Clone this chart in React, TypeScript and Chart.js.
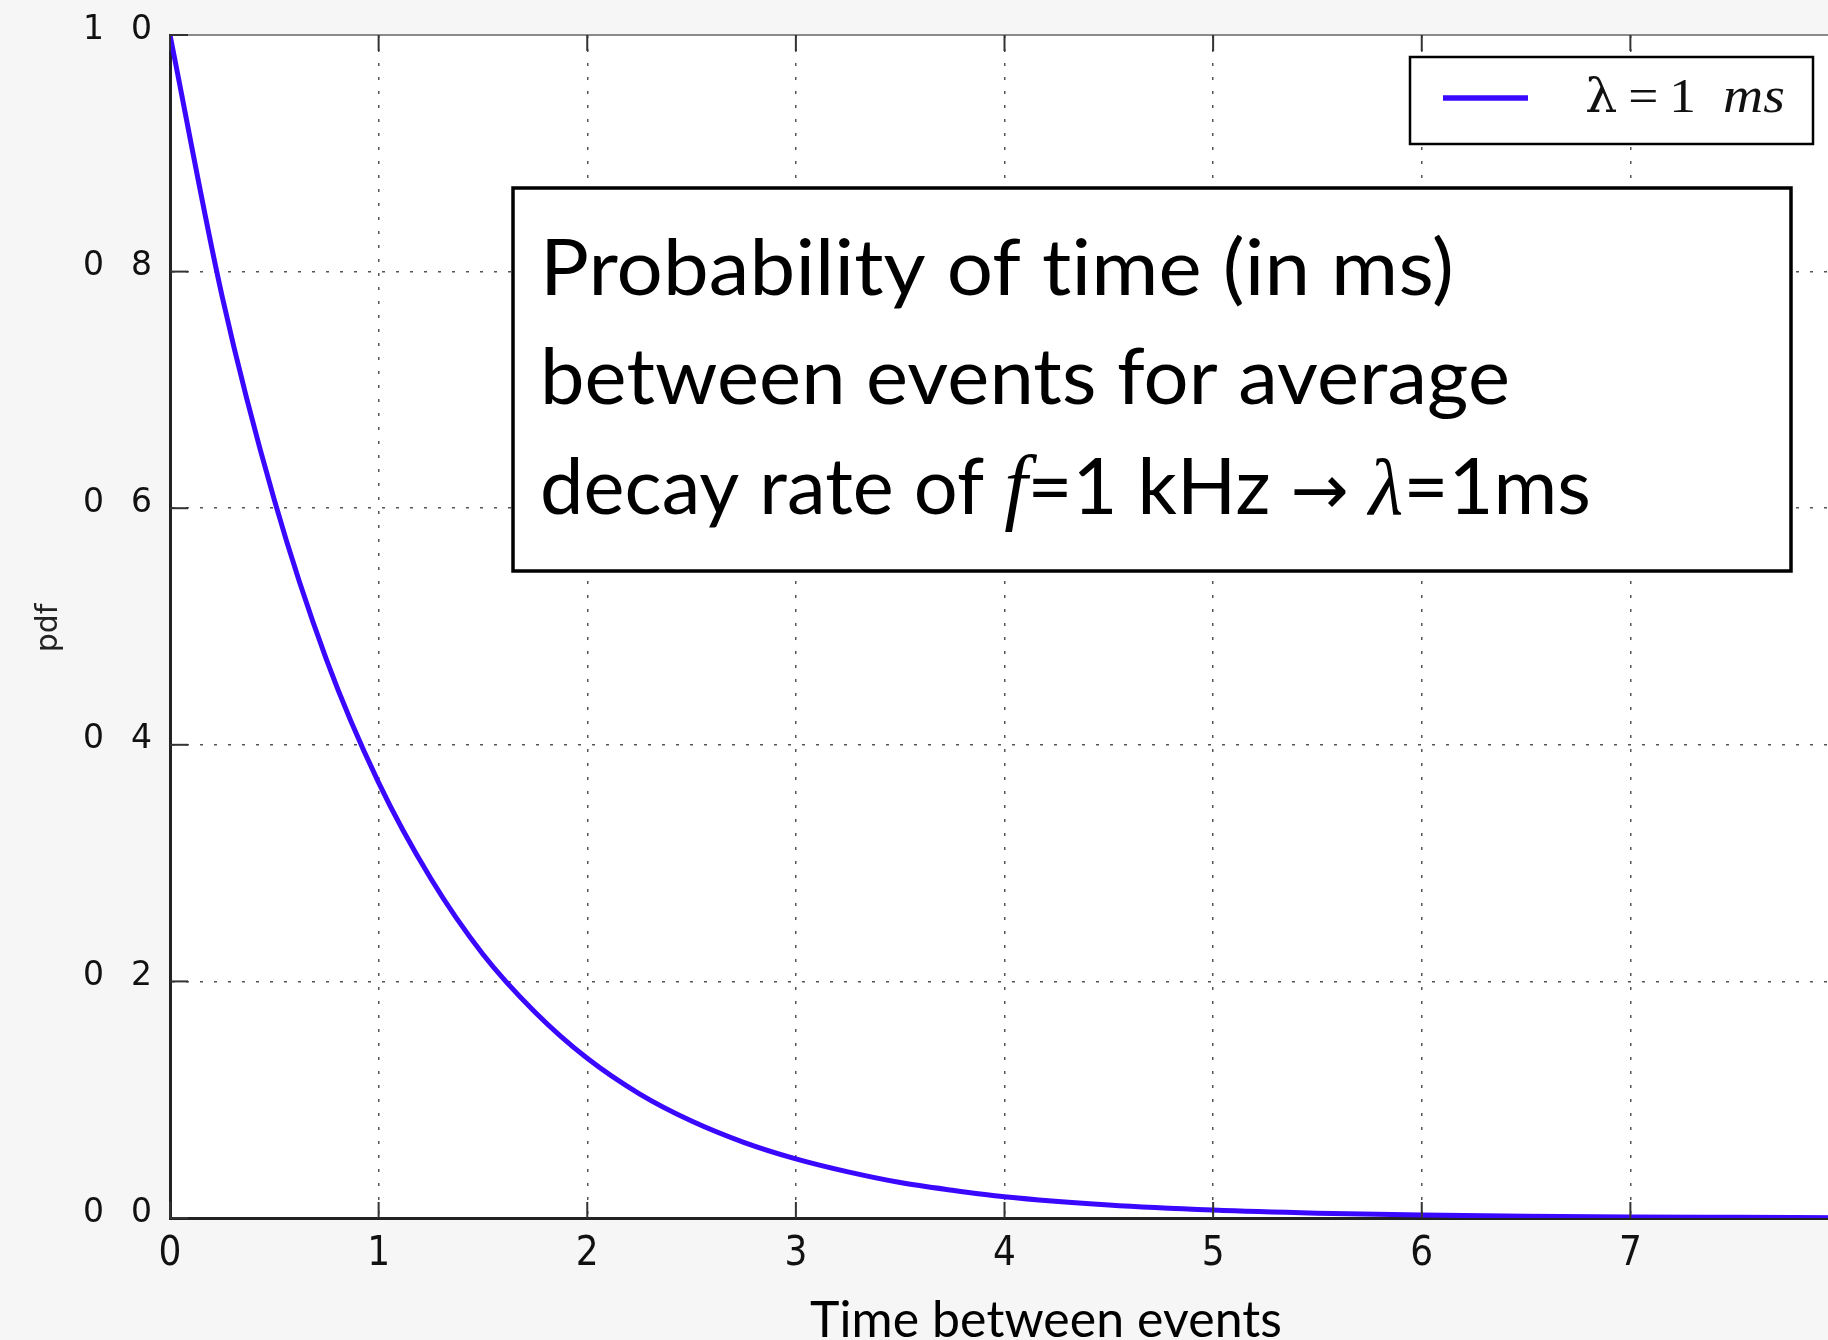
import React, { useEffect, useRef } from "react";
import { Chart, registerables } from "chart.js";

Chart.register(...registerables);

// ---- data ----
const timeValues = [0, 0.25, 0.5, 0.75, 1, 1.25, 1.5, 1.75, 2, 2.25, 2.5, 2.75, 3, 3.25, 3.5, 3.75, 4, 4.5, 5, 5.5, 6, 6.5, 7, 7.5, 8];
const pdfValues = [1.0, 0.779, 0.607, 0.472, 0.368, 0.287, 0.223, 0.174, 0.135, 0.105, 0.082, 0.064, 0.05, 0.039, 0.030, 0.0235, 0.018, 0.011, 0.0067, 0.0041, 0.0025, 0.0015, 0.0009, 0.00055, 0.0003];
const xTickValues = [0, 1, 2, 3, 4, 5, 6, 7, 8];
const xTickLabels = ["0", "1", "2", "3", "4", "5", "6", "7", "8"];
const yTickValues = [0, 0.2, 0.4, 0.6, 0.8, 1.0];
const yTickLabels = ["0\u2002 0", "0\u2002 2", "0\u2002 4", "0\u2002 6", "0\u2002 8", "1\u2002 0"];
const seriesLabel = "λ=1 ms";
const xTitle = "Time between events";
const yTitle = "pdf";
const noteLine1 = "Probability of time (in ms)";
const noteLine2 = "between events for average";

const LINE_COLOR = "rgb(58, 8, 255)";
const SANS = '"Lato", "Noto Sans", sans-serif';

type Seg = { t: string; f: string };

function drawFitted(ctx: CanvasRenderingContext2D, segs: Seg[], x: number, y: number, target: number) {
  ctx.save();
  try {
    (ctx as any).letterSpacing = "0.1px";
  } catch (e) {}
  let w = 0;
  for (const s of segs) {
    ctx.font = s.f;
    w += ctx.measureText(s.t).width;
  }
  const sx = target / w;
  ctx.translate(x, y);
  ctx.scale(sx, 1);
  ctx.textBaseline = "alphabetic";
  ctx.textAlign = "left";
  let cx = 0;
  for (const s of segs) {
    ctx.font = s.f;
    ctx.fillText(s.t, cx, 0);
    cx += ctx.measureText(s.t).width;
  }
  ctx.restore();
}

const decorPlugin = {
  id: "decor",
  beforeDraw(chart: any) {
    const { ctx, chartArea: a } = chart;
    ctx.save();
    ctx.fillStyle = "#ffffff";
    ctx.fillRect(a.left, a.top, a.right - a.left, a.bottom - a.top);
    ctx.restore();
  },
  afterDatasetsDraw(chart: any) {
    const { ctx, chartArea: a } = chart;
    const xs = chart.scales.x;
    const ys = chart.scales.y;
    ctx.save();
    // top frame line
    ctx.strokeStyle = "#8a8a8a";
    ctx.lineWidth = 2;
    ctx.beginPath();
    ctx.moveTo(a.left, a.top);
    ctx.lineTo(a.right, a.top);
    ctx.stroke();
    // inward tick marks
    ctx.strokeStyle = "#333";
    ctx.lineWidth = 2;
    for (const v of xTickValues) {
      const px = xs.getPixelForValue(v);
      ctx.beginPath();
      ctx.moveTo(px, a.bottom);
      ctx.lineTo(px, a.bottom - 16);
      ctx.moveTo(px, a.top);
      ctx.lineTo(px, a.top + 16);
      ctx.stroke();
    }
    for (const v of yTickValues) {
      const py = ys.getPixelForValue(v);
      ctx.beginPath();
      ctx.moveTo(a.left, py);
      ctx.lineTo(a.left + 18, py);
      ctx.stroke();
    }

    // annotation box
    ctx.fillStyle = "#ffffff";
    ctx.fillRect(513, 188, 1278, 383);
    ctx.strokeStyle = "#000";
    ctx.lineWidth = 3.5;
    ctx.strokeRect(513, 188, 1278, 383);
    ctx.fillStyle = "#000";
    const f78 = `78px ${SANS}`;
    drawFitted(ctx, [{ t: noteLine1, f: f78 }], 540, 295, 914);
    drawFitted(ctx, [{ t: noteLine2, f: f78 }], 540, 404, 970);
    drawFitted(
      ctx,
      [
        { t: "decay rate of ", f: f78 },
        { t: "f", f: 'italic 84px "Liberation Serif", serif' },
        { t: "=1 kHz ", f: f78 },
        { t: "→", f: `70px "DejaVu Sans", sans-serif` },
        { t: " ", f: f78 },
        { t: "λ", f: 'italic 80px "Liberation Serif", serif' },
        { t: "=1ms", f: f78 },
      ],
      540,
      514,
      1051
    );

    // legend
    ctx.fillStyle = "#ffffff";
    ctx.fillRect(1410, 57, 403, 87);
    ctx.strokeStyle = "#000";
    ctx.lineWidth = 2.5;
    ctx.strokeRect(1410, 57, 403, 87);
    ctx.strokeStyle = chart.data.datasets[0].borderColor;
    ctx.lineWidth = 5.5;
    ctx.beginPath();
    ctx.moveTo(1443, 98);
    ctx.lineTo(1528, 98);
    ctx.stroke();
    ctx.fillStyle = "#111";
    const lbl = chart.data.datasets[0].label as string;
    const [lhs, rhs] = lbl.split("=");
    const [num, unit] = rhs.split(" ");
    drawFitted(
      ctx,
      [
        { t: lhs, f: '46px "DejaVu Serif", serif' },
        { t: "\u2009=\u2009", f: '48px "Liberation Serif", serif' },
        { t: num, f: '48px "Liberation Serif", serif' },
        { t: "\u2002", f: '48px "Liberation Serif", serif' },
        { t: unit, f: 'italic 50px "Liberation Serif", serif' },
      ],
      1585,
      112,
      200
    );

    // axis titles
    ctx.fillStyle = "#000";
    drawFitted(ctx, [{ t: xTitle, f: `51px ${SANS}` }], 810, 1337, 472);
    ctx.save();
    ctx.translate(57, 628);
    ctx.rotate(-Math.PI / 2);
    ctx.font = '30px "DejaVu Sans", sans-serif';
    ctx.fillStyle = "#222";
    ctx.textAlign = "center";
    ctx.textBaseline = "alphabetic";
    ctx.fillText(yTitle, 0, 0);
    ctx.restore();
    ctx.restore();
  },
};

function labelFor(values: number[], labels: string[], v: number) {
  const i = values.findIndex((t) => Math.abs(t - v) < 1e-6);
  return i >= 0 ? labels[i] : "";
}

export default function App() {
  const ref = useRef<HTMLCanvasElement | null>(null);
  useEffect(() => {
    if (!ref.current) return;
    const chart = new Chart(ref.current, {
      type: "line",
      data: {
        datasets: [
          {
            label: seriesLabel,
            data: timeValues.map((t, i) => ({ x: t, y: pdfValues[i] })),
            borderColor: LINE_COLOR,
            borderWidth: 5,
            pointRadius: 0,
            cubicInterpolationMode: "monotone",
            fill: false,
          },
        ],
      },
      options: {
        animation: false,
        responsive: false,
        layout: { padding: { top: 35, right: 11, left: 0, bottom: 0 } },
        plugins: { legend: { display: false }, tooltip: { enabled: false }, title: { display: false } },
        scales: {
          x: {
            type: "linear",
            min: 0,
            max: 8,
            afterFit: (s: any) => {
              s.height = 122;
              s.paddingLeft = 0;
              s.paddingRight = 0;
            },
            afterBuildTicks: (s: any) => {
              s.ticks = xTickValues.map((v) => ({ value: v }));
            },
            ticks: {
              color: "#111",
              font: { family: '"DejaVu Sans Condensed", "DejaVu Sans", sans-serif', size: 40 },
              padding: 13,
              maxRotation: 0,
              autoSkip: false,
              callback: (v: any) => labelFor(xTickValues, xTickLabels, Number(v)),
            },
            grid: { color: "#555", lineWidth: 1.5, drawTicks: false },
            border: { display: true, color: "#222", width: 3, dash: [3, 11] },
          },
          y: {
            type: "linear",
            min: 0,
            max: 1,
            afterFit: (s: any) => {
              s.width = 170;
              s.paddingTop = 0;
              s.paddingBottom = 0;
            },
            afterBuildTicks: (s: any) => {
              s.ticks = yTickValues.map((v) => ({ value: v }));
            },
            ticks: {
              color: "#111",
              font: { family: '"DejaVu Sans", sans-serif', size: 33 },
              padding: 18,
              labelOffset: -5,
              autoSkip: false,
              callback: (v: any) => labelFor(yTickValues, yTickLabels, Number(v)),
            },
            grid: { color: "#555", lineWidth: 1.5, drawTicks: false },
            border: { display: true, color: "#222", width: 3, dash: [3, 11] },
          },
        },
      },
      plugins: [decorPlugin],
    } as any);
    return () => chart.destroy();
  }, []);

  return (
    <div
      style={{
        position: "fixed",
        left: 0,
        top: 0,
        width: 1850,
        height: 1340,
        background: "#f6f6f6",
        overflow: "hidden",
      }}
    >
      <canvas ref={ref} width={1850} height={1340} style={{ display: "block" }} />
    </div>
  );
}
